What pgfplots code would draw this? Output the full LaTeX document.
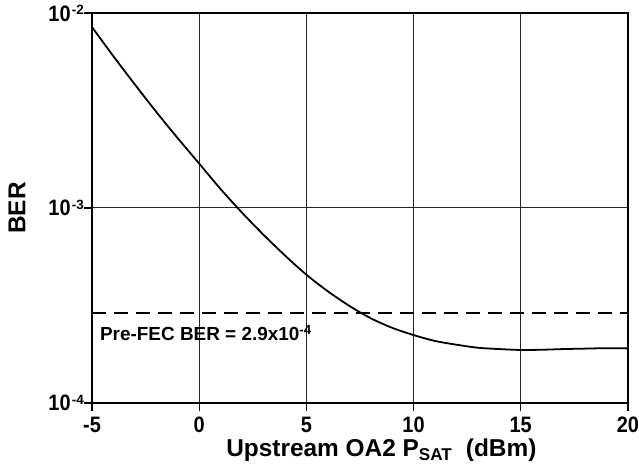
\documentclass[border=0pt]{standalone}
\usepackage{graphicx}
\usepackage{pgfplots}
\pgfplotsset{compat=1.18}
\usepackage{fontspec}
\setmainfont{Liberation Sans}
\newcommand{\st}[1]{\scalebox{1}[1.12]{#1}}
\newcommand{\tenpow}[1]{\st{10}\kern1.2bp\raisebox{6.6bp}{\fontsize{13.5}{13.5}\selectfont\bfseries #1}}
\begin{document}
\begin{tikzpicture}
\begin{axis}[
 name=ax,
 scale only axis, width=536bp, height=390bp,
 xmin=-5, xmax=20, ymode=log, ymin=1e-4, ymax=1e-2,
 xtick={-5,0,5,10,15,20}, xticklabels={\st{-5},\st{0},\st{5},\st{10},\st{15},\st{20}},
 ytick={1e-4,1e-3,1e-2},
 yticklabels={\tenpow{-4},\tenpow{-3},\tenpow{-2}},
 yminorticks=false,
 grid=major, major grid style={black!85, line width=1pt},
 axis line style={line width=2pt},
 tick align=outside, tick pos=left, major tick length=8bp,
 tick style={line width=1.3pt, black},
 ticklabel style={font=\fontsize{20}{20}\selectfont\bfseries},
 yticklabel style={inner sep=0pt, anchor=base east, yshift=-8bp, xshift=0bp},
 xticklabel style={inner sep=0pt, yshift=-6bp},
 every axis x label/.style={at={(axis description cs:0.54,-0.1385)}, anchor=base},
 every axis y label/.style={at={(axis description cs:-0.14,0.5)}, rotate=90, anchor=center},
 xlabel={Upstream OA2 P\textsubscript{SAT}\ \ (dBm)},
 ylabel={BER},
 label style={font=\fontsize{24.5}{24.5}\selectfont\bfseries},
]
\addplot[black, line width=1.8pt, smooth] coordinates {
(-5,8.47e-3) (-4,6.0e-3) (-3,4.3e-3) (-2,3.11e-3) (-1,2.28e-3) (0,1.69e-3)
(1,1.25e-3) (2,9.46e-4) (3,7.29e-4) (4,5.71e-4) (5,4.55e-4) (6,3.74e-4)
(7,3.15e-4) (8,2.72e-4) (9,2.43e-4) (10,2.23e-4) (11,2.08e-4) (12,1.99e-4)
(13,1.92e-4) (14,1.89e-4) (15,1.87e-4) (16,1.875e-4) (17,1.89e-4)
(18,1.9e-4) (19,1.91e-4) (20,1.905e-4)};
\addplot[black, line width=2pt, dash pattern=on 14bp off 8bp] coordinates {(-5,2.9e-4) (20,2.9e-4)};
\node[anchor=base west, font=\fontsize{19}{19}\selectfont\bfseries, inner sep=0pt] at (axis cs:-4.63,2.08e-4) {Pre-FEC BER = 2.9x10\textsuperscript{-4}};
\end{axis}
\path ([xshift=-92bp,yshift=-73bp]ax.south west) rectangle ([xshift=11bp,yshift=13bp]ax.north east);
\end{tikzpicture}
\end{document}
